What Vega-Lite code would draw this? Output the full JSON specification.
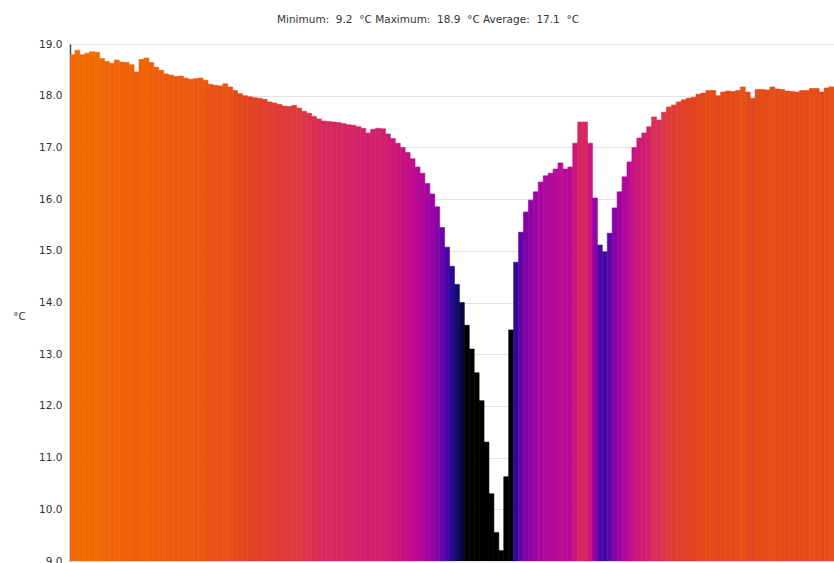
{
  "$schema": "https://vega.github.io/schema/vega-lite/v6.json",
  "autosize": {"type": "none"},
  "padding": {"left": 70, "top": 44, "right": 0, "bottom": 2},
  "width": 764,
  "height": 517,
  "background": "#ffffff",
  "title": {
    "text": "Minimum:\u00a0 9.2\u00a0 °C Maximum:\u00a0 18.9\u00a0 °C Average:\u00a0 17.1\u00a0 °C",
    "font": "DejaVu Sans",
    "fontSize": 10.5,
    "fontWeight": "normal",
    "color": "#333333",
    "anchor": "middle",
    "frame": "group",
    "dx": -24,
    "offset": 14
  },
  "config": {"view": {"stroke": null}},
  "data": {"values": [
    {"i":0,"t":18.79},{"i":1,"t":18.88},{"i":2,"t":18.79},{"i":3,"t":18.82},{"i":4,"t":18.85},{"i":5,"t":18.84},{"i":6,"t":18.72},{"i":7,"t":18.66},{"i":8,"t":18.63},{"i":9,"t":18.69},
    {"i":10,"t":18.65},{"i":11,"t":18.64},{"i":12,"t":18.6},{"i":13,"t":18.46},{"i":14,"t":18.7},{"i":15,"t":18.73},{"i":16,"t":18.64},{"i":17,"t":18.55},{"i":18,"t":18.49},{"i":19,"t":18.42},
    {"i":20,"t":18.4},{"i":21,"t":18.37},{"i":22,"t":18.38},{"i":23,"t":18.34},{"i":24,"t":18.32},{"i":25,"t":18.33},{"i":26,"t":18.34},{"i":27,"t":18.3},{"i":28,"t":18.22},{"i":29,"t":18.2},
    {"i":30,"t":18.19},{"i":31,"t":18.23},{"i":32,"t":18.17},{"i":33,"t":18.1},{"i":34,"t":18.04},{"i":35,"t":18.0},{"i":36,"t":17.98},{"i":37,"t":17.96},{"i":38,"t":17.95},{"i":39,"t":17.93},
    {"i":40,"t":17.88},{"i":41,"t":17.86},{"i":42,"t":17.83},{"i":43,"t":17.8},{"i":44,"t":17.79},{"i":45,"t":17.81},{"i":46,"t":17.76},{"i":47,"t":17.7},{"i":48,"t":17.66},{"i":49,"t":17.6},
    {"i":50,"t":17.55},{"i":51,"t":17.51},{"i":52,"t":17.5},{"i":53,"t":17.49},{"i":54,"t":17.48},{"i":55,"t":17.46},{"i":56,"t":17.44},{"i":57,"t":17.43},{"i":58,"t":17.4},{"i":59,"t":17.37},
    {"i":60,"t":17.28},{"i":61,"t":17.35},{"i":62,"t":17.37},{"i":63,"t":17.36},{"i":64,"t":17.26},{"i":65,"t":17.17},{"i":66,"t":17.08},{"i":67,"t":17.0},{"i":68,"t":16.9},{"i":69,"t":16.78},
    {"i":70,"t":16.62},{"i":71,"t":16.5},{"i":72,"t":16.3},{"i":73,"t":16.1},{"i":74,"t":15.85},{"i":75,"t":15.45},{"i":76,"t":15.07},{"i":77,"t":14.7},{"i":78,"t":14.35},{"i":79,"t":14.0},
    {"i":80,"t":13.56},{"i":81,"t":13.1},{"i":82,"t":12.64},{"i":83,"t":12.1},{"i":84,"t":11.3},{"i":85,"t":10.3},{"i":86,"t":9.55},{"i":87,"t":9.2},{"i":88,"t":10.63},{"i":89,"t":13.47},
    {"i":90,"t":14.78},{"i":91,"t":15.36},{"i":92,"t":15.75},{"i":93,"t":15.98},{"i":94,"t":16.14},{"i":95,"t":16.33},{"i":96,"t":16.45},{"i":97,"t":16.5},{"i":98,"t":16.58},{"i":99,"t":16.7},
    {"i":100,"t":16.58},{"i":101,"t":16.62},{"i":102,"t":17.08},{"i":103,"t":17.49},{"i":104,"t":17.49},{"i":105,"t":17.08},{"i":106,"t":16.02},{"i":107,"t":15.11},{"i":108,"t":14.98},{"i":109,"t":15.34},
    {"i":110,"t":15.83},{"i":111,"t":16.14},{"i":112,"t":16.43},{"i":113,"t":16.72},{"i":114,"t":17.0},{"i":115,"t":17.18},{"i":116,"t":17.28},{"i":117,"t":17.4},{"i":118,"t":17.59},{"i":119,"t":17.53},
    {"i":120,"t":17.68},{"i":121,"t":17.78},{"i":122,"t":17.82},{"i":123,"t":17.88},{"i":124,"t":17.92},{"i":125,"t":17.95},{"i":126,"t":17.97},{"i":127,"t":18.03},{"i":128,"t":18.05},{"i":129,"t":18.1},
    {"i":130,"t":18.1},{"i":131,"t":18.0},{"i":132,"t":18.07},{"i":133,"t":18.09},{"i":134,"t":18.08},{"i":135,"t":18.1},{"i":136,"t":18.17},{"i":137,"t":18.07},{"i":138,"t":17.95},{"i":139,"t":18.12},
    {"i":140,"t":18.12},{"i":141,"t":18.11},{"i":142,"t":18.17},{"i":143,"t":18.13},{"i":144,"t":18.12},{"i":145,"t":18.09},{"i":146,"t":18.08},{"i":147,"t":18.07},{"i":148,"t":18.1},{"i":149,"t":18.1},
    {"i":150,"t":18.14},{"i":151,"t":18.14},{"i":152,"t":18.07},{"i":153,"t":18.15},{"i":154,"t":18.17}
  ]},
  "mark": {"type": "bar", "strokeWidth": 0.6, "clip": true},
  "encoding": {
    "x": {
      "field": "i", "type": "ordinal", "axis": null,
      "scale": {"paddingInner": 0, "paddingOuter": 0}
    },
    "y": {
      "field": "t", "type": "quantitative",
      "scale": {"domain": [9, 19], "zero": false, "nice": false},
      "axis": {
        "title": "°C",
        "titleAngle": 0,
        "titleAlign": "center",
        "titleBaseline": "middle",
        "titleX": -51,
        "titleY": 272,
        "titleFont": "DejaVu Sans",
        "titleFontSize": 10.5,
        "titleFontWeight": "normal",
        "titleColor": "#333333",
        "values": [9, 10, 11, 12, 13, 14, 15, 16, 17, 18, 19],
        "format": ".1f",
        "labelFont": "DejaVu Sans",
        "labelFontSize": 10.5,
        "labelColor": "#333333",
        "labelPadding": 8,
        "ticks": false,
        "domainColor": "#4a4a4a",
        "domainWidth": 1.5,
        "grid": true,
        "gridColor": "#e2e2e2",
        "gridWidth": 1
      }
    },
    "y2": {"datum": 9},
    "color": {
      "field": "t", "type": "quantitative", "legend": null,
      "scale": {
        "domain": [9.2, 13.6, 14.1, 14.6, 15.1, 15.6, 16.1, 16.6, 17.0, 17.4, 17.7, 18.0, 18.3, 18.6, 18.9],
        "range": ["#000000", "#000000", "#0a0a50", "#1c0c8c", "#4a08a8", "#7404aa", "#9a03a4", "#b80a98", "#c8127f", "#d4226a", "#dc3648", "#e2451e", "#ea5810", "#ee6208", "#f26c00"],
        "interpolate": "rgb"
      }
    },
    "stroke": {
      "field": "t", "type": "quantitative", "legend": null,
      "scale": {
        "domain": [9.2, 13.6, 14.1, 14.6, 15.1, 15.6, 16.1, 16.6, 17.0, 17.4, 17.7, 18.0, 18.3, 18.6, 18.9],
        "range": ["#000000", "#000000", "#0a0a50", "#1c0c8c", "#4a08a8", "#7404aa", "#9a03a4", "#b80a98", "#c8127f", "#d4226a", "#dc3648", "#e2451e", "#ea5810", "#ee6208", "#f26c00"],
        "interpolate": "rgb"
      }
    }
  }
}
